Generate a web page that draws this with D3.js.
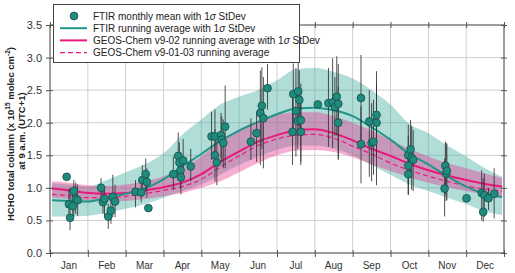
<!DOCTYPE html>
<html>
<head>
<meta charset="utf-8">
<script src="https://cdn.jsdelivr.net/npm/d3@7"></script>
<style>
  html, body { margin: 0; padding: 0; background: #fff; }
  svg { display: block; font-family: "Liberation Sans", Arial, sans-serif; }
</style>
</head>
<body>
<svg id="chart" width="515" height="273"></svg>
<script>
// month names, placed at mid-month
const months = ['Jan', 'Feb', 'Mar', 'Apr', 'May', 'Jun', 'Jul', 'Aug', 'Sep', 'Oct', 'Nov', 'Dec'];
const yTicks = [0, 0.5, 1.0, 1.5, 2.0, 2.5, 3.0, 3.5];

// running averages, sampled every half month (x in months since 1 Jan)
const runMonth = [0.05, 0.5, 1, 1.5, 2, 2.5, 3, 3.5, 4, 4.5, 5, 5.5, 6, 6.5, 7, 7.5, 8, 8.5, 9, 9.5, 10, 10.5, 11, 11.5, 11.95];
const ftirRun  = [0.81, 0.80, 0.79, 0.85, 0.91, 0.99, 1.13, 1.33, 1.52, 1.72, 1.88, 2.01, 2.13, 2.22, 2.23, 2.19, 2.10, 1.93, 1.74, 1.52, 1.36, 1.18, 1.02, 0.91, 0.86];
const ftirHigh = [1.07, 1.05, 1.02, 1.12, 1.24, 1.36, 1.53, 1.82, 2.05, 2.28, 2.40, 2.50, 2.65, 2.82, 2.84, 2.78, 2.68, 2.50, 2.28, 1.98, 1.84, 1.65, 1.48, 1.30, 1.17];
const ftirLow  = [0.56, 0.56, 0.57, 0.62, 0.68, 0.75, 0.85, 0.95, 1.05, 1.20, 1.35, 1.48, 1.58, 1.65, 1.65, 1.60, 1.50, 1.35, 1.20, 1.05, 0.95, 0.85, 0.75, 0.64, 0.58];
const geosRun  = [0.99, 0.96, 0.92, 0.91, 0.92, 0.96, 1.01, 1.08, 1.21, 1.40, 1.56, 1.71, 1.81, 1.88, 1.90, 1.84, 1.73, 1.60, 1.49, 1.37, 1.27, 1.19, 1.12, 1.06, 1.02];
const geosHigh = [1.10, 1.08, 1.04, 1.03, 1.05, 1.10, 1.18, 1.30, 1.48, 1.72, 1.90, 2.03, 2.12, 2.16, 2.16, 2.10, 2.00, 1.88, 1.74, 1.60, 1.48, 1.38, 1.30, 1.22, 1.15];
const geosLow  = [0.85, 0.83, 0.80, 0.79, 0.80, 0.83, 0.87, 0.92, 1.00, 1.10, 1.24, 1.38, 1.50, 1.57, 1.58, 1.55, 1.47, 1.36, 1.26, 1.16, 1.08, 1.01, 0.95, 0.90, 0.87];
const geosOld  = [0.90, 0.88, 0.85, 0.85, 0.87, 0.91, 0.96, 1.02, 1.13, 1.32, 1.49, 1.65, 1.75, 1.81, 1.82, 1.76, 1.64, 1.52, 1.38, 1.27, 1.18, 1.10, 1.03, 0.98, 0.95];

// FTIR monthly means with 1 sigma (lo/hi equal to mean where no bar is drawn)
const ptMonth = [0.44, 0.50, 0.53, 0.60, 0.63, 0.68, 0.73,
                 1.35, 1.40, 1.44, 1.54, 1.61, 1.66, 1.72,
                 2.26, 2.41, 2.44, 2.53, 2.56, 2.60,
                 3.26, 3.39, 3.42, 3.45, 3.46, 3.52, 3.72,
                 4.27, 4.36, 4.36, 4.41, 4.52, 4.54, 4.58, 4.63,
                 5.31, 5.46, 5.56, 5.60, 5.64, 5.75,
                 6.41, 6.43, 6.50, 6.55, 6.56, 6.59, 6.63, 6.63,
                 7.08, 7.36, 7.47, 7.53, 7.58, 7.62, 7.62, 8.22,
                 8.22, 8.44, 8.50, 8.55, 8.63, 8.63,
                 9.47, 9.47, 9.47, 9.53, 9.56, 9.60,
                 10.43, 10.45, 10.47, 10.49,
                 11.01, 11.41, 11.45, 11.48, 11.59, 11.74];
const ptMean  = [1.17, 0.75, 0.54, 0.72, 0.95, 0.83, 0.81,
                 1.00, 0.78, 0.83, 0.56, 0.65, 0.86, 0.79,
                 0.94, 0.93, 1.12, 1.21, 1.09, 0.69,
                 1.21, 1.49, 1.39, 1.27, 1.16, 1.42, 1.33,
                 1.79, 1.79, 1.50, 1.39, 1.81, 1.74, 1.69, 1.94,
                 1.71, 1.84, 2.15, 2.26, 2.07, 2.53,
                 1.86, 2.44, 2.18, 2.03, 2.48, 2.35, 2.04, 1.86,
                 2.28, 2.30, 2.31, 2.24, 2.40, 2.29, 2.00, 2.38,
                 1.67, 2.02, 1.69, 1.71, 2.12, 2.00,
                 1.50, 1.34, 1.21, 1.59, 1.46, 1.43,
                 0.99, 1.34, 1.22, 1.26,
                 0.84, 0.92, 0.63, 0.89, 0.84, 0.91];
const ptLo    = [1.17, 0.55, 0.35, 0.50, 0.56, 0.60, 0.57,
                 0.85, 0.60, 0.55, 0.37, 0.45, 0.55, 0.55,
                 0.70, 0.78, 0.90, 0.95, 0.85, 0.69,
                 0.97, 1.15, 1.10, 1.00, 0.90, 1.15, 1.10,
                 1.43, 1.40, 1.10, 1.04, 1.45, 1.40, 1.30, 1.30,
                 1.43, 1.40, 1.35, 1.60, 1.30, 2.20,
                 1.35, 1.90, 1.48, 1.60, 1.95, 1.90, 1.35, 1.40,
                 2.28, 1.63, 1.61, 1.80, 1.80, 1.43, 1.45, 1.72,
                 1.07, 1.17, 1.10, 1.20, 1.45, 1.04,
                 1.05, 0.90, 0.89, 1.15, 0.97, 0.95,
                 0.56, 0.90, 0.80, 0.81,
                 0.84, 0.50, 0.48, 0.55, 0.66, 0.53];
const ptHi    = [1.17, 0.98, 1.00, 0.95, 1.12, 1.08, 1.05,
                 1.15, 0.97, 1.00, 0.76, 0.85, 1.20, 1.05,
                 1.12, 1.10, 1.35, 1.45, 1.30, 0.69,
                 1.48, 1.85, 1.70, 1.55, 1.45, 1.75, 1.60,
                 2.17, 2.20, 1.90, 1.75, 2.15, 2.10, 2.05, 2.57,
                 2.07, 2.17, 2.80, 2.85, 2.70, 2.90,
                 2.40, 2.91, 2.84, 2.50, 3.02, 2.80, 2.60, 2.30,
                 2.28, 2.84, 2.99, 2.70, 3.02, 2.90, 2.55, 3.04,
                 2.25, 2.50, 2.30, 2.35, 2.79, 2.60,
                 1.97, 1.80, 1.60, 2.04, 1.95, 1.89,
                 1.45, 1.71, 1.69, 1.68,
                 0.84, 1.27, 1.15, 1.22, 1.00, 1.30];

const TEAL = '#22958a';
const MAGENTA = '#e8197d';

const W = 515, H = 273;
const margin = { top: 25, right: 11, bottom: 20, left: 50 };

const svg = d3.select('#chart');
const x = d3.scaleLinear().domain([0, 12]).range([margin.left, W - margin.right]);
const y = d3.scaleLinear().domain([0, 3.5]).range([H - margin.bottom, margin.top]);

// grid
svg.append('g').selectAll('line.vg')
  .data(d3.range(0, 13)).join('line')
  .attr('x1', d => x(d)).attr('x2', d => x(d))
  .attr('y1', y(0)).attr('y2', y(3.5))
  .attr('stroke', '#cfcfcf').attr('stroke-width', 1);
svg.append('g').selectAll('line.hg')
  .data(yTicks).join('line')
  .attr('x1', x(0)).attr('x2', x(12))
  .attr('y1', d => y(d)).attr('y2', d => y(d))
  .attr('stroke', '#cfcfcf').attr('stroke-width', 1);

const run = runMonth.map((m, i) => ({
  m, ftir: ftirRun[i], fHi: ftirHigh[i], fLo: ftirLow[i],
  geos: geosRun[i], gHi: geosHigh[i], gLo: geosLow[i], old: geosOld[i]
}));

const curve = d3.curveMonotoneX;
const area = (lo, hi) => d3.area().curve(curve).x(d => x(d.m)).y0(d => y(d[lo])).y1(d => y(d[hi]));
const line = key => d3.line().curve(curve).x(d => x(d.m)).y(d => y(d[key]));

// bands
svg.append('path').datum(run).attr('d', area('fLo', 'fHi'))
  .attr('fill', '#3aa99b').attr('fill-opacity', 0.4);
svg.append('path').datum(run).attr('d', area('gLo', 'gHi'))
  .attr('fill', '#e8348f').attr('fill-opacity', 0.4);

// running averages
svg.append('path').datum(run).attr('d', line('old'))
  .attr('fill', 'none').attr('stroke', MAGENTA).attr('stroke-width', 1.2).attr('stroke-dasharray', '5,3');
svg.append('path').datum(run).attr('d', line('geos'))
  .attr('fill', 'none').attr('stroke', MAGENTA).attr('stroke-width', 2);
svg.append('path').datum(run).attr('d', line('ftir'))
  .attr('fill', 'none').attr('stroke', TEAL).attr('stroke-width', 2);

// monthly means
const pts = ptMonth.map((m, i) => ({ m, v: ptMean[i], lo: ptLo[i], hi: ptHi[i] }));
svg.append('g').selectAll('line')
  .data(pts.filter(d => d.hi > d.lo)).join('line')
  .attr('x1', d => x(d.m)).attr('x2', d => x(d.m))
  .attr('y1', d => y(d.lo)).attr('y2', d => y(d.hi))
  .attr('stroke', '#333').attr('stroke-opacity', 0.85).attr('stroke-width', 1);
svg.append('g').selectAll('circle')
  .data(pts).join('circle')
  .attr('cx', d => x(d.m)).attr('cy', d => y(d.v)).attr('r', 3.9)
  .attr('fill', '#1f8b7e').attr('stroke', '#174f49').attr('stroke-width', 0.8);

// frame + ticks
svg.append('rect')
  .attr('x', x(0)).attr('y', y(3.5))
  .attr('width', x(12) - x(0)).attr('height', y(0) - y(3.5))
  .attr('fill', 'none').attr('stroke', '#555').attr('stroke-width', 1);

const yAxis = svg.append('g').attr('transform', `translate(${x(0)},0)`)
  .call(d3.axisLeft(y).tickValues(yTicks).tickFormat(d3.format('.1f')).tickSize(4).tickPadding(4));
yAxis.select('.domain').remove();
yAxis.selectAll('.tick line').attr('x1', 3).attr('stroke', '#555');
yAxis.selectAll('.tick text').attr('font-size', 11).attr('fill', '#333').attr('font-family', null);

const yAxisR = svg.append('g').attr('transform', `translate(${x(12)},0)`)
  .call(d3.axisRight(y).tickValues(yTicks).tickFormat('').tickSize(3));
yAxisR.select('.domain').remove();
yAxisR.selectAll('.tick line').attr('x1', -3).attr('stroke', '#555');

const xAxis = svg.append('g').attr('transform', `translate(0,${y(0)})`)
  .call(d3.axisBottom(x).tickValues(d3.range(0, 13)).tickFormat('').tickSize(4));
xAxis.select('.domain').remove();
xAxis.selectAll('.tick line').attr('y1', -3).attr('stroke', '#555');

const xAxisT = svg.append('g').attr('transform', `translate(0,${y(3.5)})`)
  .call(d3.axisTop(x).tickValues(d3.range(0, 13)).tickFormat('').tickSize(3));
xAxisT.select('.domain').remove();
xAxisT.selectAll('.tick line').attr('y1', 3).attr('stroke', '#555');

svg.append('g').selectAll('text')
  .data(months).join('text')
  .attr('x', (d, i) => x(i + 0.5)).attr('y', H - 4)
  .attr('text-anchor', 'middle').attr('font-size', 10).attr('fill', '#333')
  .text(d => d);

// y title, two lines
const t1 = svg.append('text')
  .attr('transform', `translate(14,${(y(0) + y(3.5)) / 2 - 5}) rotate(-90)`)
  .attr('text-anchor', 'middle').attr('font-size', 9.5).attr('font-weight', 'bold').attr('fill', '#222');
t1.append('tspan').text('HCHO total column (x 10');
t1.append('tspan').attr('font-size', 6.5).attr('dy', -4).text('15');
t1.append('tspan').attr('dy', 4).text(' molec cm');
t1.append('tspan').attr('font-size', 6.5).attr('dy', -4).text('-2');
t1.append('tspan').attr('dy', 4).text(')');
svg.append('text')
  .attr('transform', `translate(25,${(y(0) + y(3.5)) / 2 - 8}) rotate(-90)`)
  .attr('text-anchor', 'middle').attr('font-size', 9.5).attr('font-weight', 'bold').attr('fill', '#222')
  .text('at 9 a.m. (UTC+1)');

// legend
const lg = svg.append('g');
lg.append('rect').attr('x', 53.5).attr('y', 4.5).attr('width', 246).attr('height', 58)
  .attr('fill', '#fff').attr('stroke', '#444').attr('stroke-width', 1);
const legendRows = [
  { kind: 'dot',  label: ['FTIR monthly mean with 1', 'σ', ' StDev'] },
  { kind: 'teal', label: ['FTIR running average with 1', 'σ', ' StDev'] },
  { kind: 'mag',  label: ['GEOS-Chem v9-02 running average with 1', 'σ', ' StDev'] },
  { kind: 'dash', label: ['GEOS-Chem v9-01-03 running average'] },
];
legendRows.forEach((r, i) => {
  const cy = 16 + i * 12.2;
  if (r.kind === 'dot') {
    lg.append('circle').attr('cx', 74).attr('cy', cy).attr('r', 3.9)
      .attr('fill', '#1f8b7e').attr('stroke', '#174f49').attr('stroke-width', 0.8);
  } else {
    lg.append('line').attr('x1', 60).attr('x2', 87).attr('y1', cy).attr('y2', cy)
      .attr('stroke', r.kind === 'teal' ? TEAL : MAGENTA)
      .attr('stroke-width', r.kind === 'dash' ? 1.2 : 2)
      .attr('stroke-dasharray', r.kind === 'dash' ? '5,3' : null);
  }
  const t = lg.append('text').attr('x', 93).attr('y', cy + 3.5).attr('font-size', 10).attr('fill', '#222');
  r.label.forEach(s => t.append('tspan').attr('font-style', s === 'σ' ? 'italic' : null).text(s));
});
</script>
</body>
</html>
